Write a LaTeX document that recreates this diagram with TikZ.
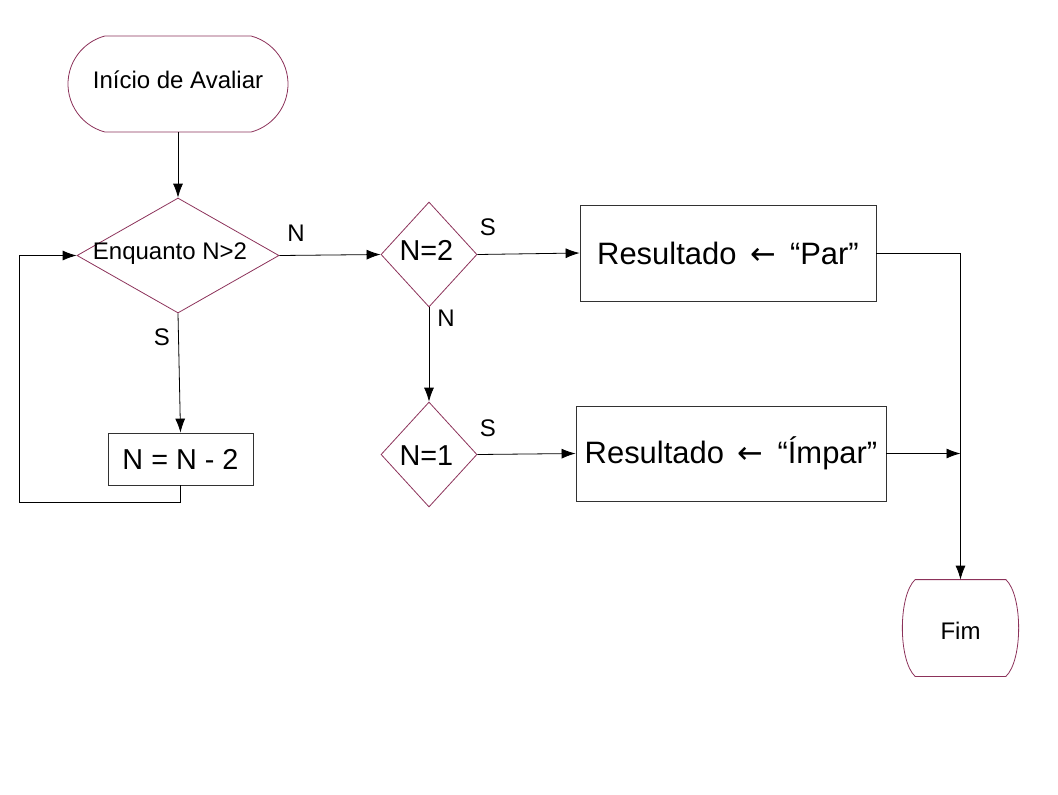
\documentclass[tikz,border=0pt]{standalone}
\usepackage{fontspec}
\setmainfont{Liberation Sans}
\newfontfamily\setafont{DejaVu Sans}
\usepackage{xcolor}
\usetikzlibrary{positioning}
\usetikzlibrary{shapes}
\usetikzlibrary{arrows.meta}
\tikzset{>={Latex[length=10.5pt,width=7.5pt]}}
\definecolor{contorno}{RGB}{140,50,90}
\definecolor{caixa}{RGB}{50,50,50}
\newcommand{\atrib}{\hspace{4pt}{\setafont\fontsize{23}{26}\selectfont ←}\hspace{4pt}}

\begin{document}
\begin{tikzpicture}[
            x=0.75pt, y=-0.75pt,
            font=\fontsize{18}{21}\selectfont,
            line width=0.6pt,
            terminal/.style={rounded rectangle, draw=contorno, inner sep=0pt},
            decisao/.style={diamond, draw=contorno, inner sep=0pt},
            bloco/.style={rectangle, draw=caixa, inner sep=0pt},
            grande/.style={font=\fontsize{21.6}{26}\selectfont},
            maior/.style={font=\fontsize{23.2}{28}\selectfont}
        ]
        \useasboundingbox (0,0) rectangle (1058,794);
        \node[terminal, rounded rectangle arc length=150, minimum width=165pt, minimum height=72pt,
              label={[yshift=3pt]center:Início de Avaliar}] (inicio) at (178,84) {};
        % laço
        \node[decisao, minimum width=151.5pt, minimum height=86.25pt,
              label={[xshift=-6pt,yshift=1.5pt]center:Enquanto N>2}] (enquanto) at (178,255.5) {};
        \path[->] (inicio) edge (enquanto);
        \node[bloco, grande, minimum width=108.75pt, minimum height=39pt] (reduz) at (180.5,459) {N = N - 2};
        \path[->] (enquanto.south) edge (reduz.north);
        \node (rotS1) at (162,337) {S};
        \coordinate (volta) at (19,502);
        \draw[->] (reduz.south) |- (volta) |- (enquanto.west);
        % testa N=2
        \node[decisao, minimum width=72pt, minimum height=78.75pt,
              label={[grande,xshift=-2pt,yshift=3pt]center:N=2}] (par2) at (429,254.5) {};
        \path[->] (enquanto.east) edge (par2.west);
        \node (rotN1) at (296,233) {N};
        \node[bloco, maior, minimum width=222pt, minimum height=72pt] (par) at (728,253) {Resultado \atrib{} “Par”};
        \path[->] (par2.east) edge (par.west);
        \node (rotS2) at (488,227) {S};
        % testa N=1
        \node[decisao, minimum width=72pt, minimum height=78.75pt,
              label={[grande,xshift=-2pt,yshift=-1pt]center:N=1}] (impar1) at (429,454.5) {};
        \path[->] (par2.south) edge (impar1.north);
        \node (rotN2) at (446,318) {N};
        \node[bloco, maior, minimum width=232.5pt, minimum height=71.25pt] (impar) at (731,453.5) {Resultado \atrib{} “Ímpar”};
        \path[->] (impar1.east) edge (impar.west);
        \node (rotS3) at (488,428) {S};
        % fim
        \node[minimum width=67.5pt, minimum height=72pt, inner sep=0pt,
              label={[yshift=-2pt]center:Fim}] (fim) at (960.5,628) {};
        \draw[contorno] (fim.north west) -- (fim.north east)
            .. controls +(17,16) and +(17,-16) .. (fim.south east) -- (fim.south west)
            .. controls +(-17,-16) and +(-17,16) .. (fim.north west);
        \draw[->] (par.east) -| (fim.north);
        \draw[->] (impar.east) -- (impar.east -| fim.north);
        \end{tikzpicture}
\end{document}
